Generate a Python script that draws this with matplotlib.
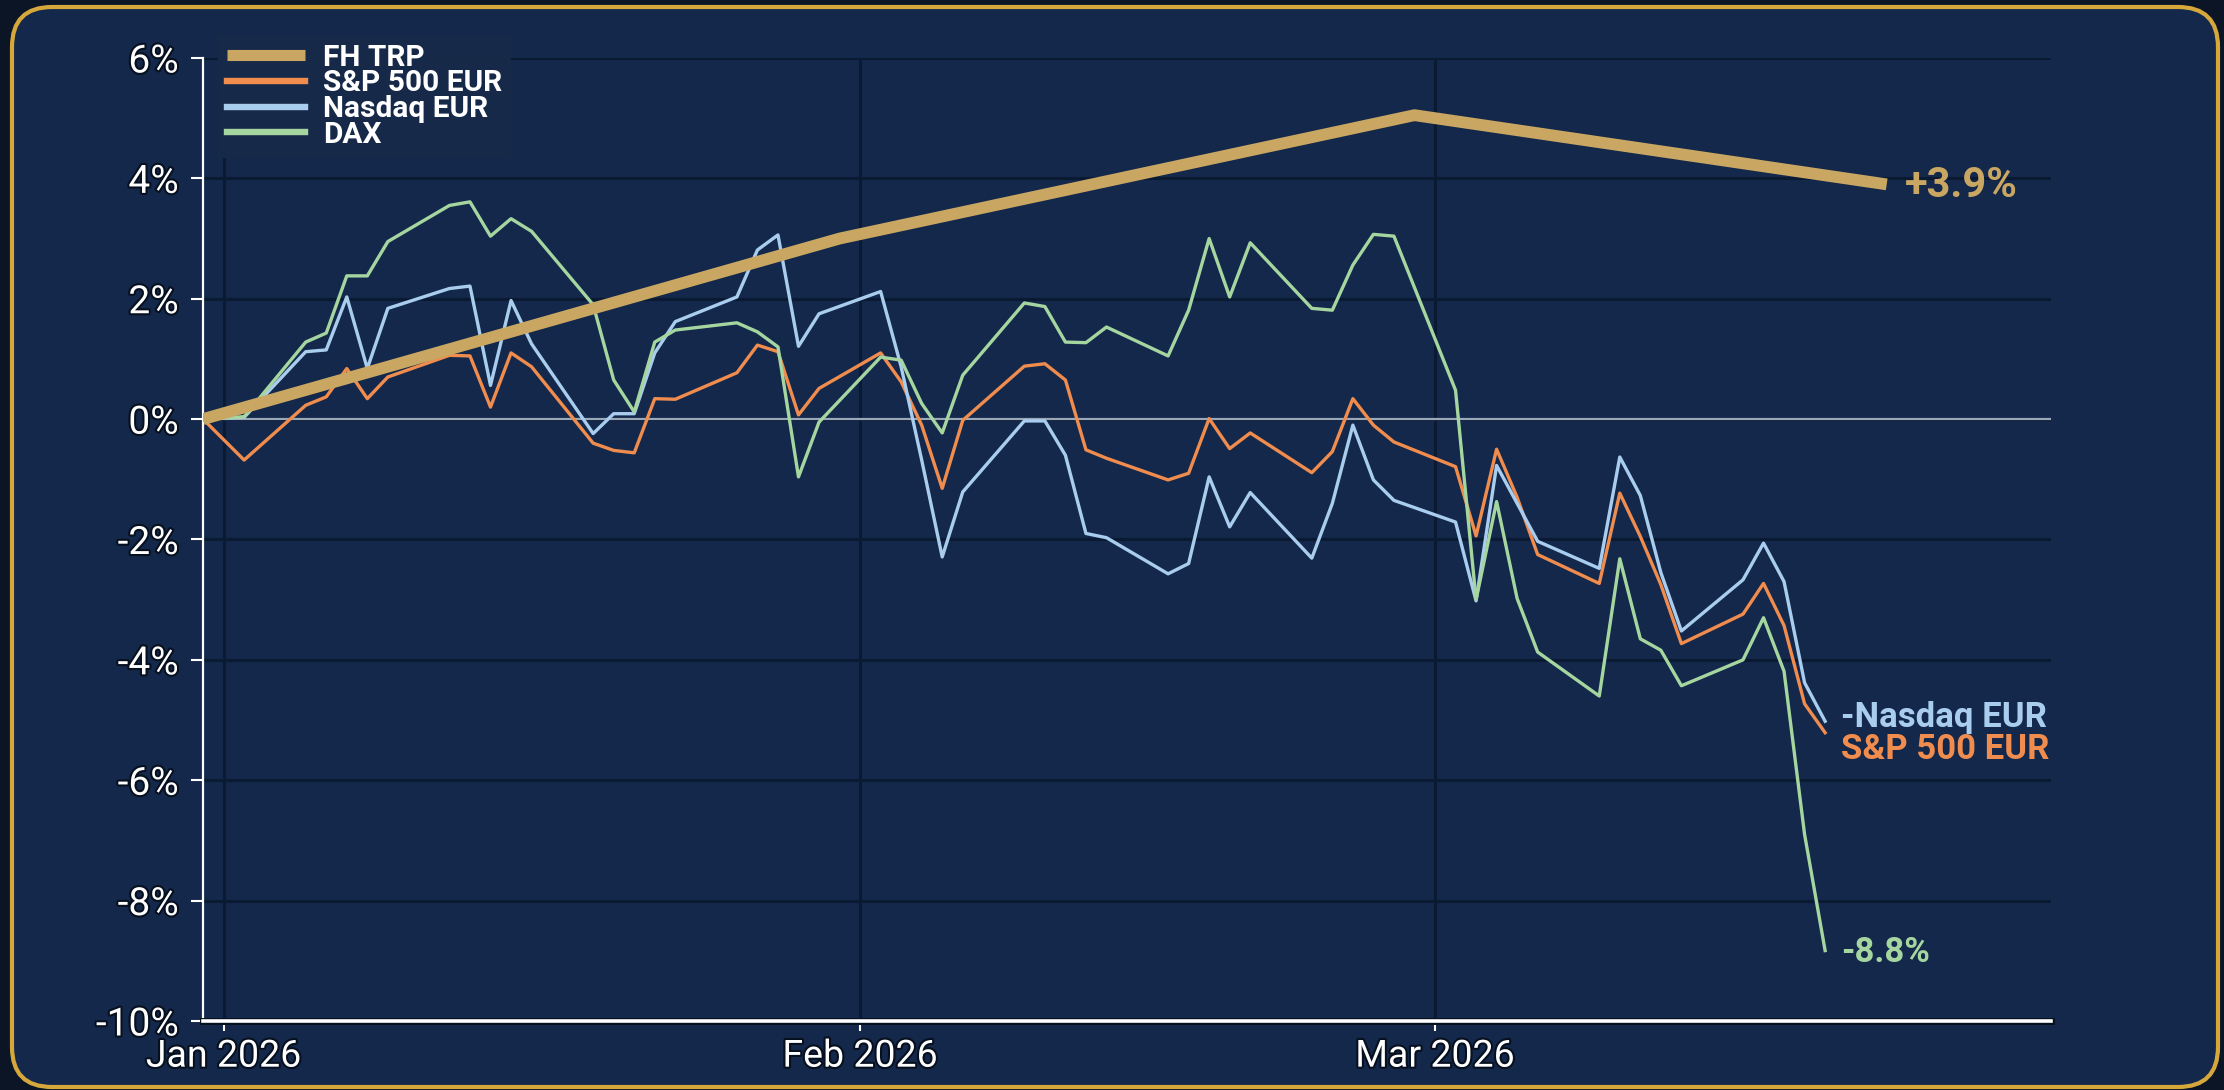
import matplotlib
matplotlib.use("Agg")
import matplotlib.pyplot as plt
import matplotlib.dates as mdates
import matplotlib.patheffects as pe
from matplotlib.patches import FancyBboxPatch
import pandas as pd

plt.rcParams['font.family'] = ['Roboto', 'DejaVu Sans']
plt.rcParams['axes.unicode_minus'] = False

# trading days used by the index series
dates = pd.to_datetime([
    "2025-12-31", "2026-01-02",
    "2026-01-05", "2026-01-06", "2026-01-07", "2026-01-08", "2026-01-09",
    "2026-01-12", "2026-01-13", "2026-01-14", "2026-01-15", "2026-01-16",
    "2026-01-19", "2026-01-20", "2026-01-21", "2026-01-22", "2026-01-23",
    "2026-01-26", "2026-01-27", "2026-01-28", "2026-01-29", "2026-01-30",
    "2026-02-02", "2026-02-03", "2026-02-04", "2026-02-05", "2026-02-06",
    "2026-02-09", "2026-02-10", "2026-02-11", "2026-02-12", "2026-02-13",
    "2026-02-16", "2026-02-17", "2026-02-18", "2026-02-19", "2026-02-20",
    "2026-02-23", "2026-02-24", "2026-02-25", "2026-02-26", "2026-02-27",
    "2026-03-02", "2026-03-03", "2026-03-04", "2026-03-05", "2026-03-06",
    "2026-03-09", "2026-03-10", "2026-03-11", "2026-03-12", "2026-03-13",
    "2026-03-16", "2026-03-17", "2026-03-18", "2026-03-19", "2026-03-20",
])

# cumulative returns in %
sp500_eur = [0.0, -0.68,
             0.23, 0.37, 0.84, 0.34, 0.70,
             1.06, 1.05, 0.20, 1.10, 0.87,
             -0.40, -0.52, -0.56, 0.34, 0.33,
             0.77, 1.23, 1.12, 0.07, 0.51,
             1.10, 0.62, -0.10, -1.15, -0.02,
             0.88, 0.92, 0.65, -0.51, -0.65,
             -1.01, -0.90, 0.01, -0.49, -0.23,
             -0.89, -0.54, 0.34, -0.10, -0.38,
             -0.79, -1.94, -0.50, -1.30, -2.25,
             -2.73, -1.23, -1.95, -2.75, -3.73,
             -3.24, -2.73, -3.43, -4.73, -5.21]

nasdaq_eur = [0.0, 0.03,
              1.12, 1.15, 2.03, 0.84, 1.84,
              2.17, 2.21, 0.56, 1.97, 1.25,
              -0.24, 0.09, 0.09, 1.10, 1.62,
              2.03, 2.81, 3.06, 1.21, 1.75,
              2.12, 0.87, -0.68, -2.29, -1.21,
              -0.03, -0.03, -0.60, -1.90, -1.97,
              -2.57, -2.40, -0.96, -1.79, -1.22,
              -2.31, -1.40, -0.10, -1.01, -1.35,
              -1.71, -3.02, -0.77, -1.40, -2.03,
              -2.48, -0.63, -1.27, -2.55, -3.52,
              -2.67, -2.06, -2.70, -4.38, -5.02]

dax = [0.0, 0.04,
       1.28, 1.43, 2.38, 2.38, 2.95,
       3.55, 3.61, 3.04, 3.33, 3.12,
       1.90, 0.65, 0.12, 1.28, 1.48,
       1.60, 1.45, 1.20, -0.96, -0.05,
       1.03, 0.98, 0.26, -0.23, 0.73,
       1.93, 1.87, 1.28, 1.27, 1.53,
       1.05, 1.81, 3.00, 2.03, 2.93,
       1.84, 1.81, 2.56, 3.07, 3.04,
       0.48, -3.00, -1.37, -2.98, -3.87,
       -4.60, -2.32, -3.65, -3.84, -4.43,
       -4.00, -3.30, -4.19, -6.90, -8.83]

# FH TRP is only reported at month ends
fh_dates = pd.to_datetime(["2025-12-31", "2026-01-31", "2026-02-28", "2026-03-23"])
fh_trp = [0.0, 3.0, 5.05, 3.9]

y_ticks = [-10, -8, -6, -4, -2, 0, 2, 4, 6]

gold = '#c9a762'
orange = '#f08c4e'
blue = '#a9cdee'
green = '#a6d6a0'
panel = '#13284a'
grid_col = '#0b1a33'

fig = plt.figure(figsize=(22.24, 10.9), dpi=100, facecolor='#0b1526')
frame = FancyBboxPatch((12, 3), 2206, 1080, boxstyle="round,pad=0,rounding_size=40",
                       transform=None, facecolor=panel, edgecolor='#d6a83c',
                       linewidth=3, zorder=0)
fig.add_artist(frame)

ax = fig.add_axes([0.0913, 0.0633, 0.8309, 0.8835])
ax.set_facecolor('none')

l_sp, = ax.plot(dates, sp500_eur, color=orange, lw=2.4, label='S&P 500 EUR', zorder=3)
l_nq, = ax.plot(dates, nasdaq_eur, color=blue, lw=2.4, label='Nasdaq EUR', zorder=3)
l_dax, = ax.plot(dates, dax, color=green, lw=2.4, label='DAX', zorder=3)
l_fh, = ax.plot(fh_dates, fh_trp, color=gold, lw=8.5, label='FH TRP', zorder=4,
                solid_capstyle='butt')

ax.axhline(0, color='#9aa8ba', lw=1.6, zorder=2)

ax.set_xlim(pd.Timestamp("2025-12-31"), pd.Timestamp("2026-03-31"))
ax.set_ylim(-10, 6)
ax.set_yticks(y_ticks)
ax.set_yticklabels([f"{v}%" for v in y_ticks])
ax.xaxis.set_major_locator(mdates.MonthLocator())
ax.xaxis.set_major_formatter(mdates.DateFormatter('%b %Y'))

ax.grid(True, color=grid_col, lw=2.2, zorder=1)
ax.set_axisbelow(True)

for s in ['top', 'right']:
    ax.spines[s].set_visible(False)
ax.spines['left'].set_color('white')
ax.spines['left'].set_linewidth(1.6)
ax.spines['bottom'].set_color('white')
ax.spines['bottom'].set_linewidth(2.6)
ax.spines['bottom'].set_path_effects([pe.withStroke(linewidth=5, foreground='#07101f')])

ax.tick_params(axis='y', colors='white', labelsize=28, length=8.5, width=1.5, pad=9)
ax.tick_params(axis='x', colors='white', labelsize=27, length=7, width=1.5, pad=5)

fig.canvas.draw()
for lbl in ax.get_xticklabels() + ax.get_yticklabels():
    lbl.set_path_effects([pe.withStroke(linewidth=3, foreground='#07101f')])

leg = ax.legend(handles=[l_fh, l_sp, l_nq, l_dax], loc='upper left',
                bbox_to_anchor=(0.0081, 1.024), borderaxespad=0,
                prop={'size': 21.5, 'weight': 'bold'},
                labelspacing=-0.08, handlelength=2.6, handletextpad=0.62,
                borderpad=0.3, fancybox=False, facecolor='#172a49',
                edgecolor='none', framealpha=0.95)
for t in leg.get_texts():
    t.set_color('white')
for h, w in zip(leg.get_lines(), [8, 4.6, 4.6, 4.6]):
    h.set_linewidth(w)

# end-of-line labels
ax.annotate("+3.9%", xy=(fh_dates[-1], fh_trp[-1]), xytext=(18, -1),
            textcoords='offset pixels', va='center', ha='left',
            color=gold, fontsize=30, fontweight='bold')
ax.annotate("-Nasdaq EUR", xy=(dates[-1], nasdaq_eur[-1]), xytext=(16, 4),
            textcoords='offset pixels', va='center', ha='left',
            color=blue, fontsize=25, fontweight='bold')
ax.annotate("S&P 500 EUR", xy=(dates[-1], sp500_eur[-1]), xytext=(16, -17),
            textcoords='offset pixels', va='center', ha='left',
            color=orange, fontsize=25, fontweight='bold')
ax.annotate("-8.8%", xy=(dates[-1], dax[-1]), xytext=(16, -2),
            textcoords='offset pixels', va='center', ha='left',
            color=green, fontsize=25, fontweight='semibold')

fig.savefig('out.png', dpi=100, facecolor=fig.get_facecolor())
